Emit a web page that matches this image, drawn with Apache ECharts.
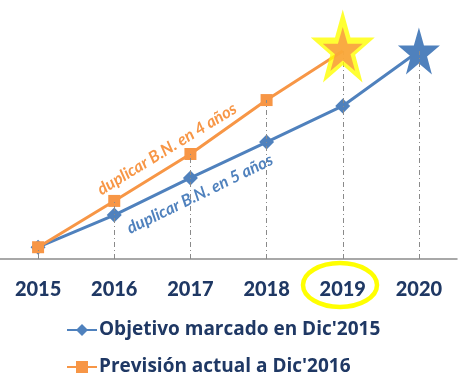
<!DOCTYPE html>
<html><head><meta charset="utf-8">
<script src="https://cdn.jsdelivr.net/npm/echarts@6/dist/echarts.min.js"></script>
<style>html,body{margin:0;padding:0;background:#fff}#c{width:462px;height:383px}</style>
</head><body><div id="c"></div>
<script>
const years = ['2015','2016','2017','2018','2019','2020'];
const objetivo = [1.0, 1.164, 1.353, 1.536, 1.72, 2.0];
const prevision = [1.0, 1.236, 1.475, 1.75, 2.0];
const nameObj = "Objetivo marcado en Dic'2015";
const namePrev = "Previsión actual a Dic'2016";
const note4 = 'duplicar B.N. en 4 años';
const note5 = 'duplicar B.N. en 5 años';

const STAR = 'path://M50,0 L61.8,35.4 L99,35.4 L69,57.3 L80.3,92.7 L50,70.8 L19.7,92.7 L31,57.3 L1,35.4 L38.2,35.4 Z';
const yMin = 0.94, yMax = 2.26;
const BLUE = '#4F81BD', ORANGE = '#F79646', NAVY = '#1F3864';

const tops = years.map((y, i) => Math.max(objetivo[i], prevision[i] !== undefined ? prevision[i] : -Infinity));
const dropLines = tops.map((v, i) => [{coord: [i, yMin]}, {coord: [i, v]}]);
const lastP = prevision.length - 1;
const lastO = objetivo.length - 1;

const chart = echarts.init(document.getElementById('c'));
chart.setOption({
  animation: false,
  grid: {left: -9, right: 5, top: 0, bottom: 124, containLabel: false},
  xAxis: {
    type: 'category', data: years, boundaryGap: true,
    axisLine: {lineStyle: {color: '#8C8C8C', width: 1.5}},
    axisTick: {show: false},
    axisLabel: {margin: 21, color: NAVY, fontFamily: 'Lato', fontWeight: 900, fontSize: 20}
  },
  yAxis: {type: 'value', min: yMin, max: yMax, show: false, splitLine: {show: false}},
  legend: {
    orient: 'vertical', left: 66, top: 318, itemGap: 13, padding: 0, height: 70,
    itemWidth: 30, itemHeight: 15,
    data: [nameObj, namePrev],
    textStyle: {color: NAVY, fontFamily: 'Open Sans', fontWeight: 'bold', fontSize: 19, lineHeight: 24, padding: [0,0,0,-3]}
  },
  graphic: [
    {type: 'ellipse', shape: {cx: 340, cy: 285, rx: 37, ry: 22}, style: {fill: 'none', stroke: '#FFFF00', lineWidth: 4.5}, z: 10},
    {type: 'text', x: 167, y: 149, rotation: 31.5 * Math.PI / 180,
      style: {text: note4, fill: ORANGE, font: 'italic bold 16.5px Lato', textAlign: 'center', textVerticalAlign: 'middle'}, z: 10},
    {type: 'text', x: 200, y: 194, rotation: 26 * Math.PI / 180,
      style: {text: note5, fill: BLUE, font: 'italic bold 16.5px Lato', textAlign: 'center', textVerticalAlign: 'middle'}, z: 10}
  ],
  series: [
    {
      name: 'drop', type: 'line', data: [], silent: true, z: 1,
      markLine: {silent: true, symbol: 'none', label: {show: false},
        lineStyle: {color: '#8A8A8A', width: 1, type: [5, 3, 1, 3]}, data: dropLines}
    },
    {
      name: nameObj, type: 'line', z: 3,
      symbol: 'diamond', symbolSize: 15,
      lineStyle: {color: BLUE, width: 3},
      itemStyle: {color: BLUE},
      data: objetivo.map((v, i) => i === lastO ? {value: v, symbol: STAR, symbolSize: [42, 47]} : v)
    },
    {
      name: namePrev, type: 'line', z: 4,
      symbol: 'rect', symbolSize: 12,
      lineStyle: {color: ORANGE, width: 3},
      itemStyle: {color: ORANGE},
      data: prevision.map((v, i) => i === lastP ? {value: v, symbol: 'none'} : v)
    },
    {
      name: 'starGlow', type: 'scatter', z: 5, silent: true,
      symbol: STAR, symbolSize: [64, 73], symbolOffset: [0, -5],
      itemStyle: {color: '#FFFF00'},
      data: [[lastP, prevision[lastP]]]
    },
    {
      name: 'starFill', type: 'scatter', z: 6, silent: true,
      symbol: STAR, symbolSize: [40, 44], symbolOffset: [0, -2],
      itemStyle: {color: ORANGE},
      data: [[lastP, prevision[lastP]]]
    }
  ]
});
</script></body></html>
